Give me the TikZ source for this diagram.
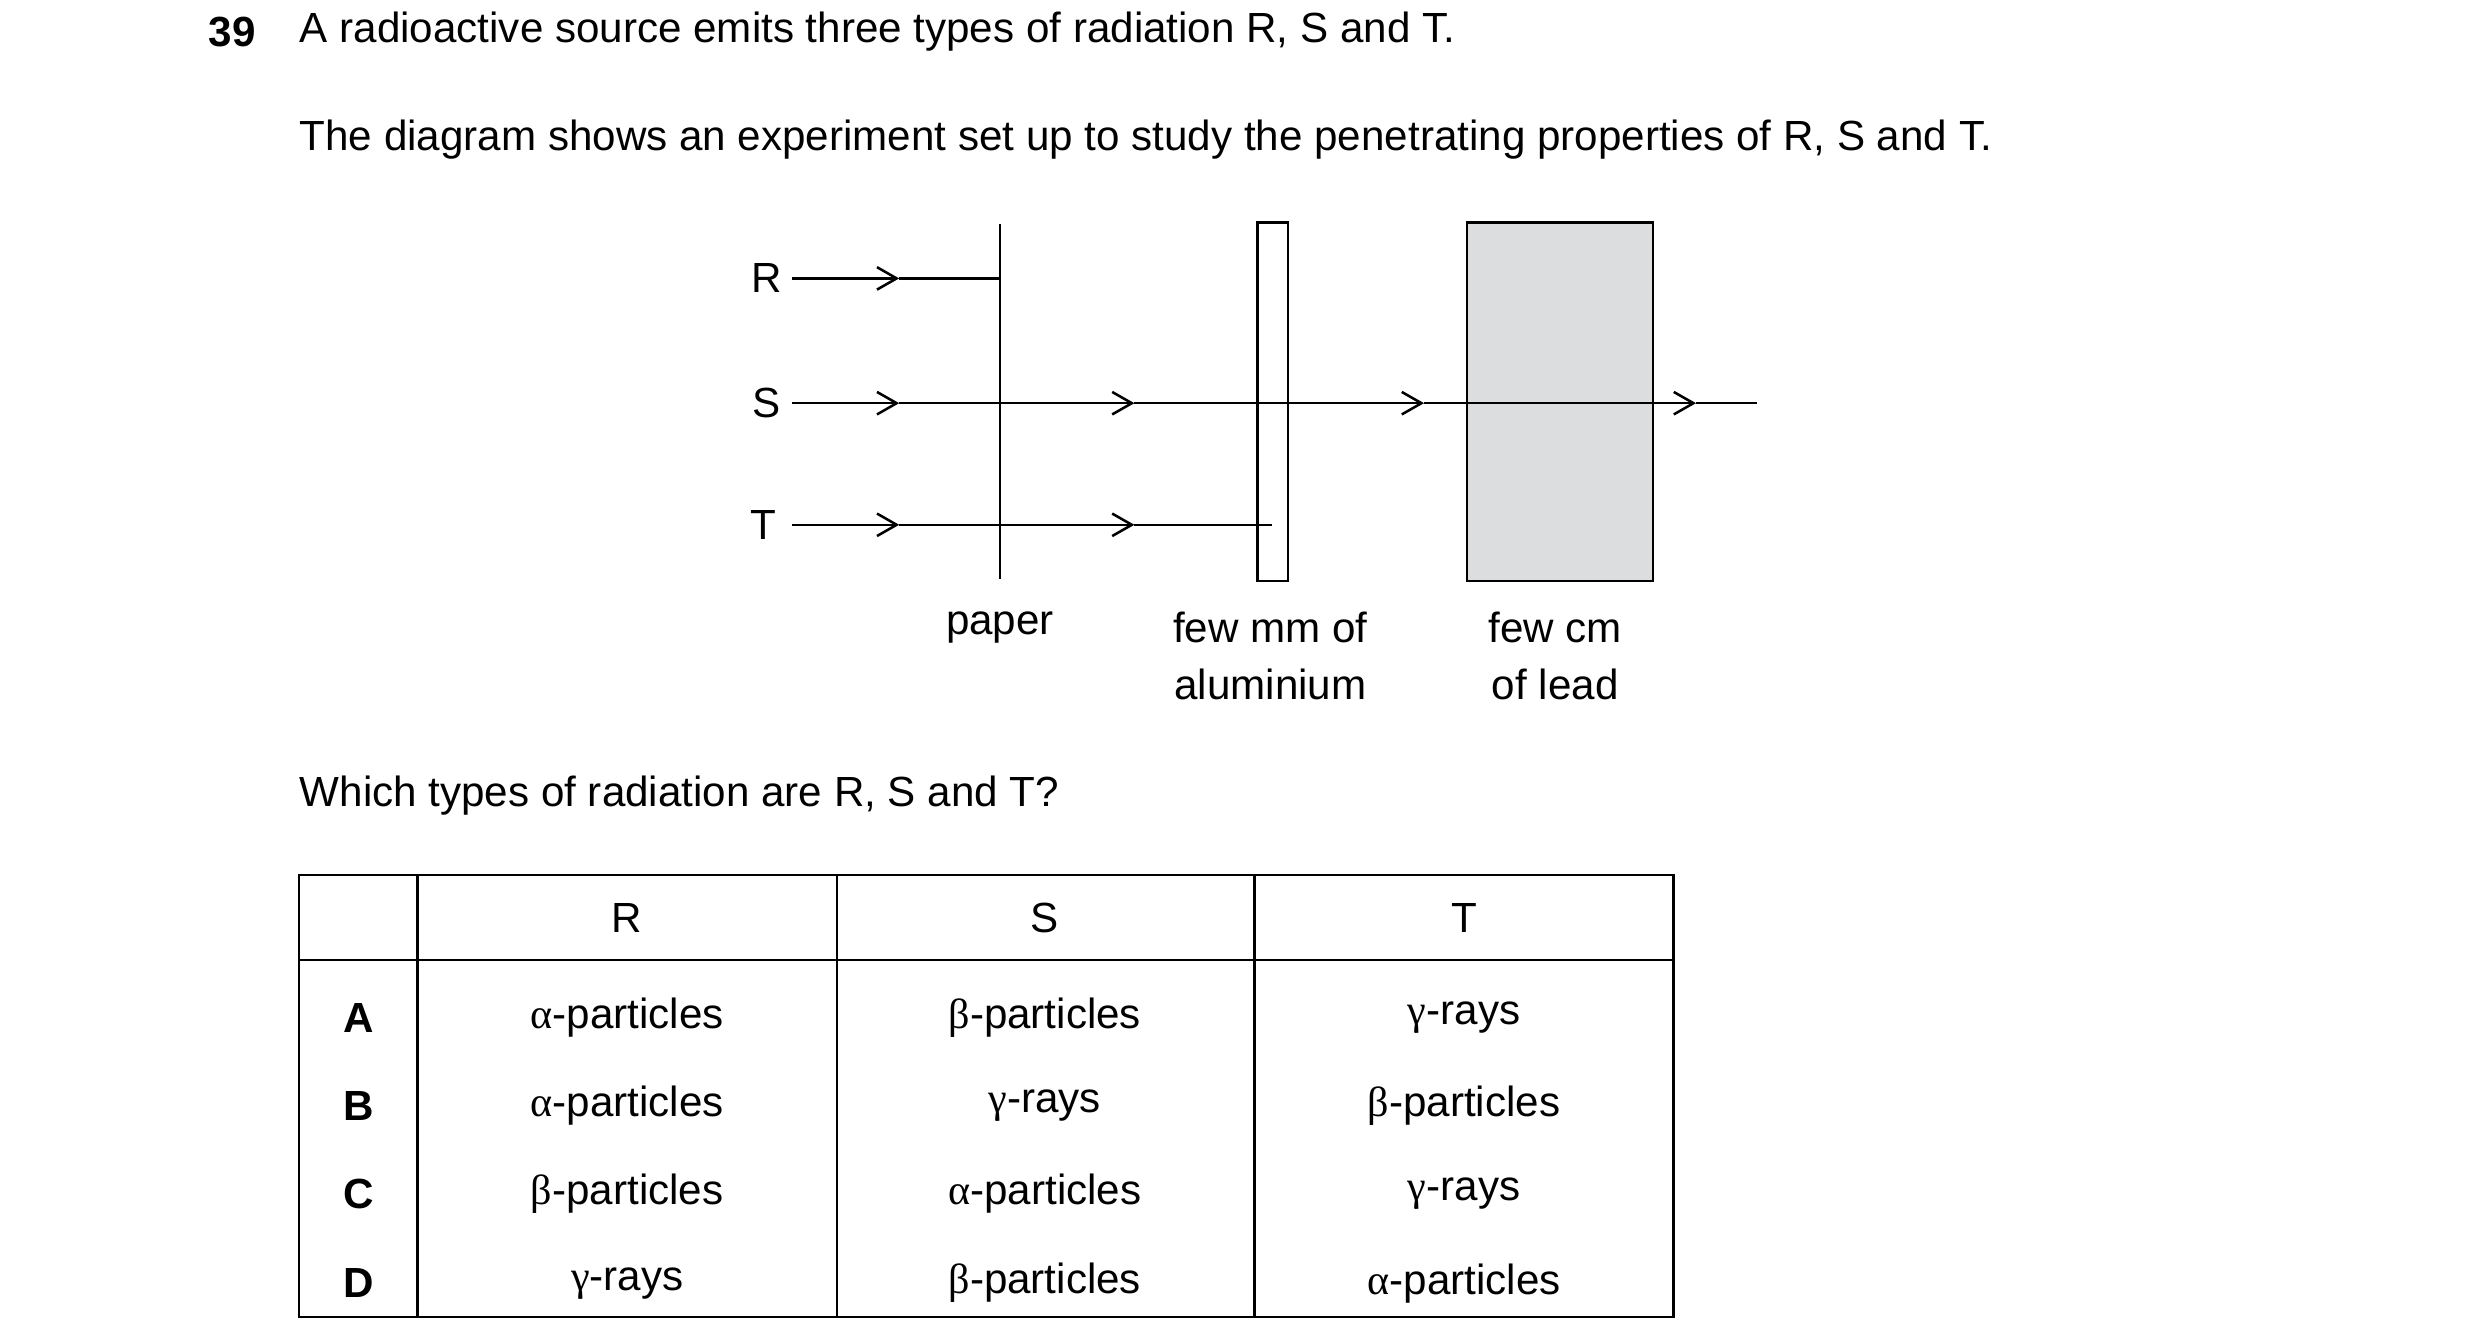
\documentclass[tikz,border=0pt]{standalone}
\usepackage{fontspec}
\setmainfont{Liberation Sans}
\newfontfamily\grk{Liberation Serif}
\usetikzlibrary{arrows.meta}
\begin{document}
\begin{tikzpicture}[x=0.02cm,y=-0.02cm,
  txt/.style={font=\fontsize{15}{18}\selectfont,inner sep=0pt},
  ln/.style={line width=0.9pt},
  arr/.style={ln,-{Straight Barb[length=7pt,width=8pt,line width=0.9pt]}}]
\useasboundingbox (0,0) rectangle (1550,839.4);
\node[txt,anchor=west,font=\fontsize{15}{18}\selectfont\bfseries] (n) at (130,20) {39};
\node[txt,anchor=west] (q1) at (187,20) {A radioactive source emits three types of radiation R, S and T.};
\node[txt,anchor=west] (q2) at (187,87) {The diagram shows an experiment set up to study the penetrating properties of R, S and T.};
% labels
\node[txt] (R) at (479,174) {R};
\node[txt] (S) at (479,252) {S};
\node[txt] (T) at (477,328) {T};
% absorbers
\draw[ln] (625,140) coordinate (p1) -- (625,362) coordinate (p2);
\draw[ln] (786,139) rectangle (805,363);
\draw[ln,fill={rgb,255:red,220;green,221;blue,223}] (917,139) rectangle (1033,363);
% rays
\coordinate (r0) at (495,174); \coordinate (ra) at (562,174); \coordinate (r1) at (625,174);
\draw[arr] (r0) -- (ra); \draw[ln] (ra) -- (r1);
\coordinate (s0) at (495,252); \coordinate (sa) at (562,252); \coordinate (sb) at (709,252);
\coordinate (sc) at (890,252); \coordinate (sd) at (1060,252); \coordinate (s1) at (1098,252);
\draw[arr] (s0) -- (sa); \draw[arr] (sa) -- (sb); \draw[arr] (sb) -- (sc); \draw[arr] (sc) -- (sd); \draw[ln] (sd) -- (s1);
\coordinate (t0) at (495,328); \coordinate (ta) at (562,328); \coordinate (tb) at (709,328); \coordinate (t1) at (795,328);
\draw[arr] (t0) -- (ta); \draw[arr] (ta) -- (tb); \draw[ln] (tb) -- (t1);
\node[txt] (lp) at (625,392) {paper};
\node[txt,align=center,font=\fontsize{15}{20.5}\selectfont] (la) at (794,410) {few mm of\\aluminium};
\node[txt,align=center,font=\fontsize{15}{20.5}\selectfont] (ll) at (972,410) {few cm\\of lead};
\node[txt,anchor=west] (q3) at (187,497) {Which types of radiation are R, S and T?};
% table
\draw[ln] (187,547) rectangle (1046,823);
\draw[ln] (187,600) -- (1046,600);
\foreach \x in {261,523,784} \draw[ln] (\x,547) -- (\x,823);
\node[txt] (hR) at (392,574) {R};
\node[txt] (hS) at (653,574) {S};
\node[txt] (hT) at (915,574) {T};
\foreach \l/\y/\a/\b/\c in {
 A/636/{{\grk α}-particles}/{{\grk β}-particles}/{{\grk γ}-rays},
 B/691/{{\grk α}-particles}/{{\grk γ}-rays}/{{\grk β}-particles},
 C/746/{{\grk β}-particles}/{{\grk α}-particles}/{{\grk γ}-rays},
 D/802/{{\grk γ}-rays}/{{\grk β}-particles}/{{\grk α}-particles}}{
  \node[txt,font=\fontsize{15}{18}\selectfont\bfseries] (k\l) at (224,\y) {\l};
  \node[txt] (a\l) at (392,\y) {\a};
  \node[txt] (b\l) at (653,\y) {\b};
  \node[txt] (c\l) at (915,\y) {\c};
}
\end{tikzpicture}
\end{document}
